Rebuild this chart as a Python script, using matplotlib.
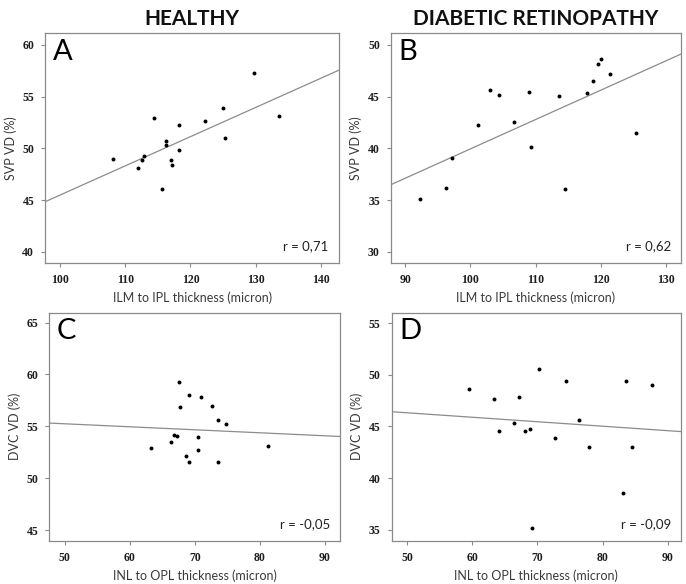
import matplotlib
matplotlib.use("Agg")
import matplotlib.pyplot as plt

# Panel A - healthy, SVP
a_x = [108.2, 111.9, 112.5, 112.8, 114.4, 115.65, 116.2, 116.3, 117.0, 117.1,
       118.2, 118.3, 122.15, 124.96, 125.3, 129.8, 133.5]
a_y = [48.97, 48.06, 48.87, 49.26, 52.94, 46.1, 50.29, 50.68, 48.9, 48.42,
       49.87, 52.23, 52.68, 53.9, 51.0, 57.26, 53.1]

# Panel B - diabetic retinopathy, SVP
b_x = [92.3, 96.3, 97.1, 101.2, 103.06, 104.4, 106.75, 109.0, 109.36, 113.56,
       114.5, 117.86, 118.9, 119.65, 120.0, 121.5, 125.44]
b_y = [35.11, 36.12, 39.03, 42.26, 45.6, 45.15, 42.52, 45.47, 40.1, 45.08,
       36.08, 45.34, 46.54, 48.12, 48.67, 47.2, 41.49]

# Panel C - healthy, DVC
c_x = [63.28, 66.36, 66.77, 67.23, 67.6, 67.7, 68.56, 69.08, 69.13, 70.4,
       70.46, 70.87, 72.67, 73.49, 73.6, 74.8, 81.23]
c_y = [52.9, 53.48, 54.16, 54.03, 59.23, 56.84, 52.13, 58.06, 51.55, 53.94,
       52.71, 57.84, 56.97, 55.65, 51.58, 55.19, 53.13]

# Panel D - diabetic retinopathy, DVC
d_x = [59.54, 63.27, 64.13, 66.38, 67.14, 68.16, 68.88, 69.13, 70.26, 72.65,
       74.44, 76.43, 77.9, 83.16, 83.57, 84.5, 87.5]
d_y = [48.67, 47.63, 44.55, 45.36, 47.83, 44.52, 44.74, 35.2, 50.62, 43.86,
       49.38, 45.62, 43.02, 38.6, 49.38, 42.99, 49.06]

# fitted lines (slope, intercept)
fit_slope = [0.2827, 0.2835, -0.0289, -0.0434]
fit_icept = [17.21, 11.6, 56.69, 48.5]
r_text = ["r = 0,71", "r = 0,62", "r = -0,05", "r = -0,09"]
letters = ["A", "B", "C", "D"]
xlabels = ["ILM to IPL thickness (micron)"] * 2 + ["INL to OPL thickness (micron)"] * 2
ylabels = ["SVP VD (%)", "SVP VD (%)", "DVC VD (%)", "DVC VD (%)"]
xticks = [[100, 110, 120, 130, 140], [90, 100, 110, 120, 130],
          [50, 60, 70, 80, 90], [50, 60, 70, 80, 90]]
yticks = [[40, 45, 50, 55, 60], [30, 35, 40, 45, 50],
          [45, 50, 55, 60, 65], [35, 40, 45, 50, 55]]
xlims = [(97.75, 142.76), (87.8, 132.35), (47.6, 92.3), (47.65, 92.0)]
ylims = [(38.94, 61.13), (28.94, 51.13), (43.97, 65.96), (33.95, 56.03)]
titles = ["HEALTHY", "DIABETIC RETINOPATHY"]

W, H = 686, 584
# axes boxes in pixels: left, top, right, bottom
boxes = [(45.3, 33.3, 339, 262.7), (391, 33.3, 681, 262.7),
         (49.3, 312.7, 340, 540.7), (391.7, 312.7, 681, 540.5)]

fig = plt.figure(figsize=(W / 100, H / 100), dpi=100)
xs = [a_x, b_x, c_x, d_x]
ys = [a_y, b_y, c_y, d_y]
grey = "#8a8a8a"

for i in range(4):
    l, t, r, b = boxes[i]
    ax = fig.add_axes([l / W, 1 - b / H, (r - l) / W, (b - t) / H])
    ax.scatter(xs[i], ys[i], s=8, color="black", zorder=3, linewidths=0)
    ax.axline((0, fit_icept[i]), slope=fit_slope[i], color="#8c8c8c", lw=0.9)
    ax.set_xlim(xlims[i])
    ax.set_ylim(ylims[i])
    ax.set_xticks(xticks[i])
    ax.set_yticks(yticks[i])
    for s in ax.spines.values():
        s.set_color(grey)
        s.set_linewidth(0.9)
    ax.tick_params(length=3, width=0.8, color=grey, pad=5, labelcolor="#1e1e1e",
                   labelsize=8.5)
    for lab in ax.get_xticklabels() + ax.get_yticklabels():
        lab.set_family("Liberation Serif")
        lab.set_fontweight("bold")
    ax.set_xlabel(xlabels[i], family="Lato", fontsize=9, color="#3a3a3a", labelpad=4)
    ax.set_ylabel(ylabels[i], family="Lato", fontsize=9, color="#3a3a3a", labelpad=4)
    ax.text(0.025, 0.975, letters[i], transform=ax.transAxes, family="Lato",
            fontsize=21, ha="left", va="top", color="black")
    ax.text(0.965, 0.045, r_text[i], transform=ax.transAxes, family="Lato",
            fontsize=9.5, ha="right", va="bottom", color="#222222")
    if i < 2:
        ax.set_title(titles[i], family="Lato", fontweight="bold", fontsize=15,
                     pad=6, color="#111111")

fig.savefig("out.png", dpi=100)
